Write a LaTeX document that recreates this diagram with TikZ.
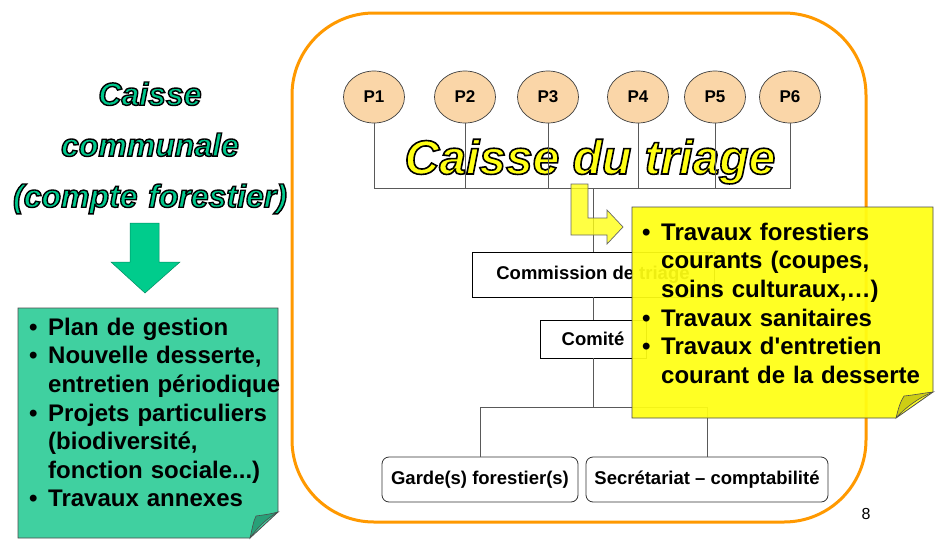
\documentclass[tikz,border=0pt]{standalone}
\usepackage{fontspec}
\setmainfont{Liberation Sans}
\usetikzlibrary{shapes.geometric}
\definecolor{orangeline}{RGB}{255,153,0}
\definecolor{pfill}{RGB}{250,214,168}
\definecolor{gfill}{RGB}{64,208,160}
\definecolor{gflap}{RGB}{40,160,120}
\definecolor{garrow}{RGB}{0,204,140}
\definecolor{gtitle}{RGB}{0,200,140}
\definecolor{yfill}{RGB}{255,255,20}
\definecolor{yflap}{RGB}{205,205,20}
\newcommand\outl[2][1.4]{\special{pdf:literal direct #1 w 0 0 0 RG 2 Tr}#2\special{pdf:literal direct 0 Tr}}
\newcommand\bul{\makebox[19pt][l]{•}}
\newcommand\ind{\hspace*{19pt}}
\tikzset{
  frame/.style={draw=orangeline, line width=3pt, rounded corners=82pt},
  tree/.style={draw=black!65, line width=1pt},
  pnode/.style={ellipse, draw=black!75, line width=0.7pt, fill=pfill, minimum width=61pt, minimum height=52pt, inner sep=0pt, font=\fontsize{17}{20}\selectfont\bfseries},
  sqbox/.style={rectangle, draw=black, line width=0.8pt, fill=white, inner sep=0pt, font=\fontsize{18.5}{22}\selectfont\bfseries},
  rbox/.style={sqbox, rounded corners=7pt, draw=black!80},
  listtext/.style={anchor=north west, inner sep=0pt, align=left, font=\fontsize{24}{28.6}\selectfont\bfseries},
}
\begin{document}
\begin{tikzpicture}[x=1pt,y=-1pt]
\useasboundingbox (0,0) rectangle (940,552);
\fill[white] (0,0) rectangle (940,552);

% left part
\node[text width=300pt, align=center, anchor=north, inner sep=0pt, font=\fontsize{32}{51}\selectfont\bfseries\itshape, text=gtitle] (gtitle) at (150,69.3)
  {\strut\outl{Caisse}\\\outl{communale}\\\outl{(compte forestier)}};
\draw[draw=gtitle!70!black, line width=0.5pt, fill=garrow] (130,223) -- (159,223) -- (159,262) -- (180,262) -- (145,293) -- (111,262) -- (130,262) -- cycle;
\draw[draw=black!70, line width=0.8pt, fill=gfill] (18,308) -- (278,308) -- (278,512) -- (250,538) -- (18,538) -- cycle;
\draw[draw=black!70, line width=0.6pt, fill=gflap] (250,538) .. controls (252,530) and (253,522) .. (256,516) .. controls (263,515) and (271,514) .. (278,512) .. controls (266,519) and (257,528) .. (250,538) -- cycle;
\node[listtext, text width=260pt] (glist) at (29,315) {\strut\bul Plan de gestion\\
\bul Nouvelle desserte,\\
\ind entretien périodique\\
\bul Projets particuliers\\
\ind (biodiversité,\\
\ind fonction sociale...)\\
\bul Travaux annexes};

% frame
\draw[frame] (292,13) rectangle (866,522);

% title (under lines)
\node[anchor=base, inner sep=0pt, font=\fontsize{48}{56}\selectfont\bfseries\itshape, text=yfill] (ttitle) at (590,174) {\outl[1.6]{Caisse du triage}};

% proprietaires
\node[pnode] (p1) at (374,97) {P1};
\node[pnode] (p2) at (465,97) {P2};
\node[pnode] (p3) at (548,97) {P3};
\node[pnode] (p4) at (638,97) {P4};
\node[pnode] (p5) at (715,97) {P5};
\node[pnode] (p6) at (790,97) {P6};

% organisation
\node[sqbox, minimum width=242pt, minimum height=45pt] (comm) at (593,274.5) {Commission de triage};
\node[sqbox, minimum width=106pt, minimum height=38pt] (comite) at (593,339) {Comité};
\node[rbox, minimum width=196pt, minimum height=45pt] (garde) at (480,479.5) {Garde(s) forestier(s)};
\node[rbox, minimum width=242pt, minimum height=45pt] (secr) at (707,479.5) {Secrétariat – comptabilité};

\coordinate (trunk) at (593,188);
\coordinate (branch) at (593,407);
\draw[tree] (p1.south) -- (p1.south |- trunk) -- (p6.south |- trunk) -- (p6.south);
\foreach \p in {p2,p3,p4,p5} \draw[tree] (\p.south) -- (\p.south |- trunk);
\draw[tree] (trunk) -- (comm.north);
\draw[tree] (comm.south) -- (comite.north);
\draw[tree] (comite.south) -- (branch);
\draw[tree] (garde.north) -- (garde.north |- branch) -- (secr.north |- branch) -- (secr.north);

% yellow bent arrow
\draw[draw=black!60, line width=0.7pt, fill=yfill, fill opacity=0.8] (571,184) -- (588,184) -- (588,218) -- (607,218) -- (607,210) -- (623,227) -- (607,244) -- (607,235) -- (571,235) -- cycle;

% yellow callout
\draw[draw=black!70, line width=0.8pt, fill=yfill, fill opacity=0.93] (632,207) -- (933,207) -- (933,392) -- (896,418) -- (632,418) -- cycle;
\draw[draw=black!70, line width=0.6pt, fill=yflap] (896,418) .. controls (898,410) and (900,402) .. (904,396) .. controls (914,395) and (924,393) .. (933,392) .. controls (918,398) and (905,408) .. (896,418) -- cycle;
\node[listtext, text width=290pt] (ylist) at (642,220) {\strut\bul Travaux forestiers\\
\ind courants (coupes,\\
\ind soins culturaux,…)\\
\bul Travaux sanitaires\\
\bul Travaux d\textquotesingle entretien\\
\ind courant de la desserte};

\node[font=\fontsize{16}{19}\selectfont, inner sep=0pt] (num) at (866,513.5) {8};
\end{tikzpicture}
\end{document}
